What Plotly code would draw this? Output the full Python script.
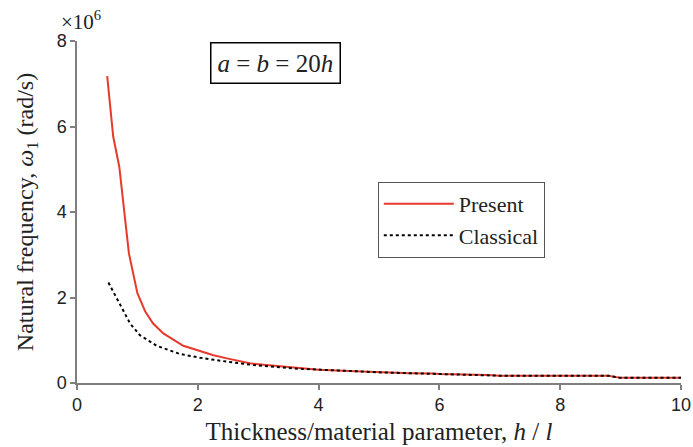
import plotly.graph_objects as go

# Data (values in units of 1e6 rad/s)
present_x = [0.5, 0.6, 0.7, 0.86, 1.0, 1.13, 1.26, 1.43, 1.76, 2.0, 2.26, 2.5, 2.86, 3.0, 3.5, 3.86, 4.0, 4.5, 5.0, 5.5, 5.9, 6.0, 6.8, 7.0, 8.0, 8.8, 9.0, 10.0]
present_y = [7.18, 5.76, 5.06, 3.03, 2.1, 1.67, 1.39, 1.16, 0.87, 0.77, 0.65, 0.57, 0.46, 0.44, 0.37, 0.33, 0.31, 0.28, 0.25, 0.23, 0.22, 0.21, 0.19, 0.17, 0.17, 0.17, 0.12, 0.12]

classical_x = [0.52, 0.7, 0.88, 1.04, 1.32, 1.7, 2.04, 2.48, 2.92, 3.58, 4.0, 4.5, 5.0, 5.5, 6.0, 6.8, 7.0, 8.0, 8.8, 9.0, 10.0]
classical_y = [2.35, 1.88, 1.39, 1.12, 0.87, 0.68, 0.59, 0.50, 0.42, 0.34, 0.31, 0.28, 0.25, 0.23, 0.21, 0.19, 0.17, 0.17, 0.17, 0.12, 0.12]

x_ticks = [0, 2, 4, 6, 8, 10]
y_ticks = [0, 2, 4, 6, 8]

SERIF = "Liberation Serif, Times New Roman, serif"
SANS = "Liberation Sans, Arial, sans-serif"

fig = go.Figure()
fig.add_trace(go.Scatter(x=present_x, y=present_y, mode="lines", name="Present",
                         line=dict(color="#e53a2c", width=2)))
fig.add_trace(go.Scatter(x=classical_x, y=classical_y, mode="lines", name="Classical",
                         line=dict(color="black", width=2, dash="dot")))

axis_common = dict(showline=True, linecolor="#7f7f7f", linewidth=1.5, ticks="outside",
                   ticklen=5, tickcolor="#7f7f7f", tickwidth=1.5, showgrid=False, zeroline=False,
                   automargin=False,
                   tickfont=dict(family=SANS, size=18, color="#222"))

fig.update_layout(
    width=693, height=447,
    margin=dict(l=77, r=12, t=41, b=64),
    paper_bgcolor="white", plot_bgcolor="white",
    xaxis=dict(range=[0, 10], tickvals=x_ticks, **axis_common,
               title=dict(text="Thickness/material parameter, <i>h</i> / <i>l</i>",
                          font=dict(family=SERIF, size=25, color="#222"), standoff=8)),
    yaxis=dict(range=[0, 8], tickvals=y_ticks, **axis_common,
               title=dict(text="Natural frequency, <i>ω</i><sub>1</sub> (rad/s)",
                          font=dict(family=SERIF, size=24, color="#222"), standoff=16)),
    legend=dict(x=0.498, y=0.588, xanchor="left", yanchor="top",
                bordercolor="#555", borderwidth=1, bgcolor="white",
                font=dict(family=SERIF, size=22, color="#222"),
                itemwidth=70, tracegroupgap=0),
    showlegend=True,
)

fig.add_annotation(x=3.28, y=7.49, xref="x", yref="y",
                   text="<i>a</i> = <i>b</i> = 20<i>h</i>", showarrow=False,
                   font=dict(family=SERIF, size=25, color="#222"),
                   bordercolor="black", borderwidth=1.5, borderpad=6, bgcolor="white")

fig.add_annotation(x=(81 - 77) / 604, y=(383 - 20) / 342, xref="paper", yref="paper",
                   xanchor="center", yanchor="middle",
                   text="×10<sup>6</sup>", showarrow=False,
                   font=dict(family=SERIF, size=21, color="#222"))

fig.write_html("out.html", config={"displayModeBar": False},
               post_script="document.body.style.margin='0';")
